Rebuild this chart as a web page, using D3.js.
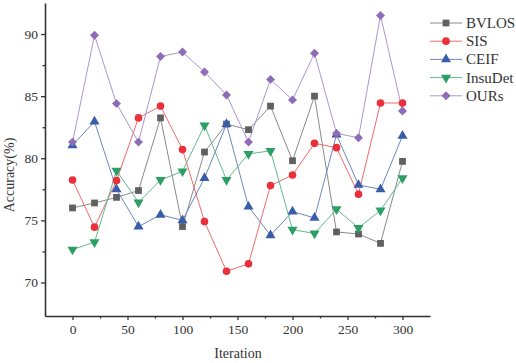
<!DOCTYPE html>
<html lang="en">
  <head>
    <meta charset="utf-8">
    <title>Accuracy vs Iteration</title>
    <script src="https://d3js.org/d3.v7.min.js"></script>
    <style>
      body { margin: 0; background: #fff; }
      text { font-family: "Liberation Serif", "Times New Roman", serif; fill: #333; }
    </style>
  </head>
  <body>
    <script>
      var width = 516,
          height = 363;

      var iterations = [0, 20, 40, 60, 80, 100, 120, 140, 160, 180, 200, 220, 240, 260, 280, 300];
      var bvlos   = [76.0, 76.4, 76.85, 77.4, 83.25, 74.5, 80.5, 82.75, 82.3, 84.2, 79.8, 85.0, 74.07, 73.9, 73.15, 79.75];
      var sis     = [78.25, 74.45, 78.2, 83.25, 84.2, 80.7, 74.9, 70.9, 71.5, 77.8, 78.65, 81.2, 80.85, 77.1, 84.45, 84.45];
      var ceif    = [81.05, 82.95, 77.5, 74.5, 75.45, 75.0, 78.4, 82.75, 76.1, 73.8, 75.7, 75.2, 81.9, 77.85, 77.5, 81.8];
      var insudet = [72.65, 73.25, 79.0, 76.45, 78.25, 78.95, 82.65, 78.25, 80.35, 80.6, 74.25, 73.95, 75.9, 74.4, 75.8, 78.4];
      var ours    = [81.3, 89.9, 84.4, 81.3, 88.2, 88.55, 86.95, 85.1, 81.3, 86.35, 84.7, 88.45, 82.0, 81.65, 91.5, 83.8];

      var seriesNames = ["BVLOS", "SIS", "CEIF", "InsuDet", "OURs"];
      var xTicks = [0, 50, 100, 150, 200, 250, 300];
      var yTicks = [70, 75, 80, 85, 90];

      var series = [
        {name: "BVLOS",   values: bvlos,   marker: "#606060", line: "#8a8a8a", shape: "square"},
        {name: "SIS",     values: sis,     marker: "#e8313a", line: "#ef6a6f", shape: "circle"},
        {name: "CEIF",    values: ceif,    marker: "#3a5daa", line: "#6d86c2", shape: "up"},
        {name: "InsuDet", values: insudet, marker: "#2c9f65", line: "#62b98d", shape: "down"},
        {name: "OURs",    values: ours,    marker: "#8e6cb8", line: "#ad96cc", shape: "diamond"}
      ];

      var svg = d3.select("body").append("svg")
        .attr("width", width)
        .attr("height", height);

      var x = d3.scaleLinear().domain([-25, 325]).range([45, 430]);
      var y = d3.scaleLinear().domain([67.3, 92.5]).range([316, 3]);

      function symbolFor(shape) {
        if (shape == "square") return d3.symbol().type(d3.symbolSquare).size(46)();
        if (shape == "circle") return d3.symbol().type(d3.symbolCircle).size(46)();
        if (shape == "diamond") return d3.symbol().type(d3.symbolSquare).size(40)();
        return d3.symbol().type(d3.symbolTriangle).size(44)();
      }
      function rotFor(shape) {
        if (shape == "down") return " rotate(180)";
        if (shape == "diamond") return " rotate(45)";
        return "";
      }

      // axes
      svg.append("g")
        .attr("transform", "translate(0," + y.range()[0] + ")")
        .call(d3.axisBottom(x).tickValues(xTicks).tickSize(4).tickPadding(4).tickSizeOuter(0));
      svg.append("g")
        .attr("transform", "translate(0," + y.range()[0] + ")")
        .call(d3.axisBottom(x).tickValues([25, 75, 125, 175, 225, 275]).tickSize(2.5).tickFormat("").tickSizeOuter(0))
        .select(".domain").remove();

      svg.append("g")
        .attr("transform", "translate(" + x.range()[0] + ",0)")
        .call(d3.axisLeft(y).tickValues(yTicks).tickSize(4).tickPadding(3).tickSizeOuter(0));
      svg.append("g")
        .attr("transform", "translate(" + x.range()[0] + ",0)")
        .call(d3.axisLeft(y).tickValues([72.5, 77.5, 82.5, 87.5]).tickSize(2.5).tickFormat("").tickSizeOuter(0))
        .select(".domain").remove();

      svg.selectAll(".domain").attr("stroke", "#333").attr("stroke-width", 1.6);
      svg.selectAll(".tick line").attr("stroke", "#333").attr("stroke-width", 1.3);
      svg.selectAll(".tick text").style("font-family", "'Liberation Serif', serif").style("font-size", "13.5px").attr("fill", "#333");

      svg.append("text")
        .attr("x", 238).attr("y", 358)
        .attr("text-anchor", "middle")
        .style("font-size", "14px")
        .text("Iteration");

      svg.append("text")
        .attr("transform", "translate(14,175) rotate(-90)")
        .attr("text-anchor", "middle")
        .style("font-size", "14px")
        .text("Accuracy(%)");

      var line = d3.line()
        .x(function(d, i) { return x(iterations[i]); })
        .y(function(d) { return y(d); });

      series.forEach(function(s) {
        svg.append("path")
          .datum(s.values)
          .attr("fill", "none")
          .attr("stroke", s.line)
          .attr("stroke-width", 1)
          .attr("d", line);
      });

      series.forEach(function(s) {
        svg.append("g").selectAll("path")
          .data(s.values)
          .enter().append("path")
          .attr("d", symbolFor(s.shape))
          .attr("transform", function(d, i) { return "translate(" + x(iterations[i]) + "," + y(d) + ")" + rotFor(s.shape); })
          .attr("fill", s.marker);
      });

      // legend
      var legend = svg.append("g").attr("transform", "translate(430,23)");
      series.forEach(function(s, i) {
        var g = legend.append("g").attr("transform", "translate(0," + (i * 18.2) + ")");
        g.append("line").attr("x1", 0).attr("x2", 32).attr("stroke", s.line).attr("stroke-width", 1);
        g.append("path").attr("d", symbolFor(s.shape))
          .attr("transform", "translate(16,0)" + rotFor(s.shape))
          .attr("fill", s.marker);
        g.append("text").attr("x", 36).attr("y", 5)
          .style("font-size", "15px")
          .text(seriesNames[i]);
      });
    </script>
  </body>
</html>
